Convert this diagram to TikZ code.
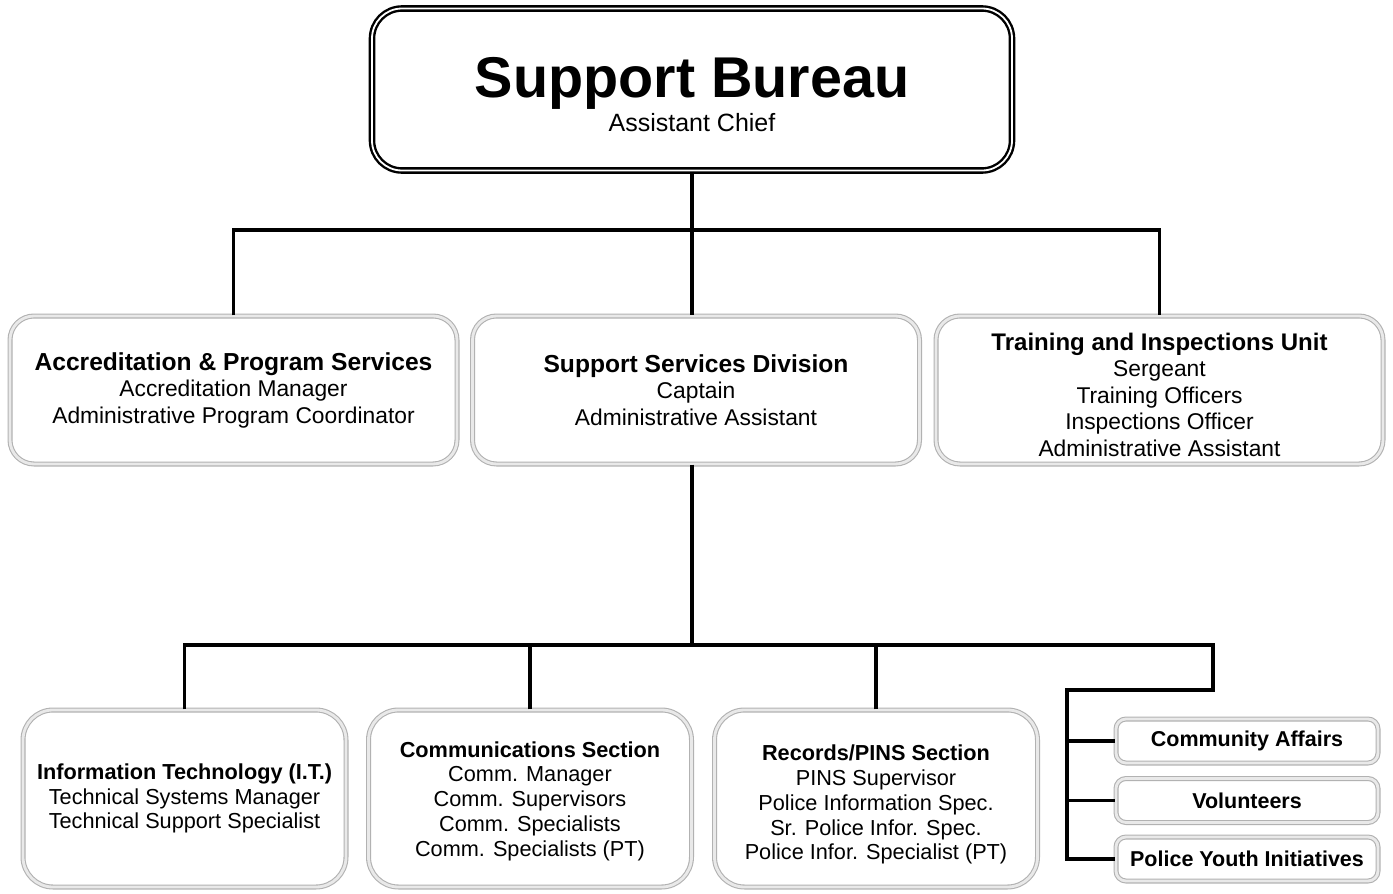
\documentclass[tikz,border=0pt]{standalone}
\usepackage{fontspec}
\setmainfont{Liberation Sans}
\begin{document}
\begin{tikzpicture}[x=1pt,y=-1pt,
  topbox/.style={draw=black, line width=2.4pt, double=white, double distance=1.8pt, rounded corners=30pt, fill=white, minimum width=640pt, minimum height=162pt, align=center},
  unitbox/.style={draw=gray!60, line width=1.1pt, double=gray!17, double distance=2.8pt, rounded corners=24pt, fill=white, align=center, font=\fontsize{22.8}{26.5}\selectfont},
  midbox/.style={unitbox, minimum width=447pt, minimum height=148pt},
  lowbox/.style={unitbox, rounded corners=30pt, minimum width=323pt, minimum height=177pt, font=\fontsize{21.7}{24.8}\selectfont},
  smallbox/.style={unitbox, rounded corners=10pt, minimum width=262pt, minimum height=44pt, font=\fontsize{21.5}{24}\selectfont\bfseries},
  link/.style={draw=black, line width=3.6pt}]
\useasboundingbox (0,0) rectangle (1393,894);
% top level
\node[topbox] (bureau) at (692,89.5){\rule{0pt}{50pt}{\fontsize{57.5}{57.5}\selectfont\bfseries Support Bureau}\\[3pt]{\fontsize{25}{26}\selectfont Assistant Chief}};
% second level
\node[midbox] (aps) at (233.5,390){{\fontsize{24.6}{26.5}\selectfont\bfseries Accreditation \& Program Services}\\Accreditation Manager\\Administrative Program Coordinator};
\node[midbox] (ssd) at (696,390){{\fontsize{24.6}{26.5}\selectfont\bfseries Support Services Division}\\Captain\\Administrative Assistant};
\node[midbox] (tiu) at (1159.5,390){\rule{0pt}{27pt}{\fontsize{24}{26}\selectfont\bfseries Training and Inspections Unit}\\Sergeant\\Training Officers\\Inspections Officer\\Administrative Assistant};
% third level
\node[lowbox] (its) at (184.5,798.5){\textbf{Information Technology (I.T.)}\\Technical Systems Manager\\Technical Support Specialist};
\node[lowbox] (comm) at (530,798.5){\rule{0pt}{21pt}\textbf{Communications Section}\\Comm. Manager\\Comm. Supervisors\\Comm. Specialists\\Comm. Specialists (PT)};
\node[lowbox] (pins) at (876,798.5){\rule{0pt}{28pt}\textbf{Records/PINS Section}\\PINS Supervisor\\Police Information Spec.\\Sr. Police Infor. Spec.\\Police Infor. Specialist (PT)};
\node[smallbox] (comaff) at (1247,741){Community Affairs};
\node[smallbox] (volun) at (1247,800.5){Volunteers};
\node[smallbox] (youth) at (1247,859){Police Youth Initiatives};
% connectors
\coordinate (bar1) at (692,230);
\coordinate (bar2) at (692,645);
\coordinate (elbow) at (1213,690);
\coordinate (side) at (1067,690);
\draw[link] (bureau.south) -- (bar1);
\draw[link] (aps.north) |- (bar1) -| (tiu.north);
\draw[link] (bar1) -- (bar1|-ssd.north);
\draw[link] (bar1|-ssd.south) -- (bar2);
\draw[link] (its.north) |- (bar2) -- (elbow|-bar2) -- (elbow) -- (side) |- (youth.west);
\draw[link] (comm.north) -- (comm.north|-bar2);
\draw[link] (pins.north) -- (pins.north|-bar2);
\draw[link] (side|-comaff.west) -- (comaff.west);
\draw[link] (side|-volun.west) -- (volun.west);
\end{tikzpicture}
\end{document}
